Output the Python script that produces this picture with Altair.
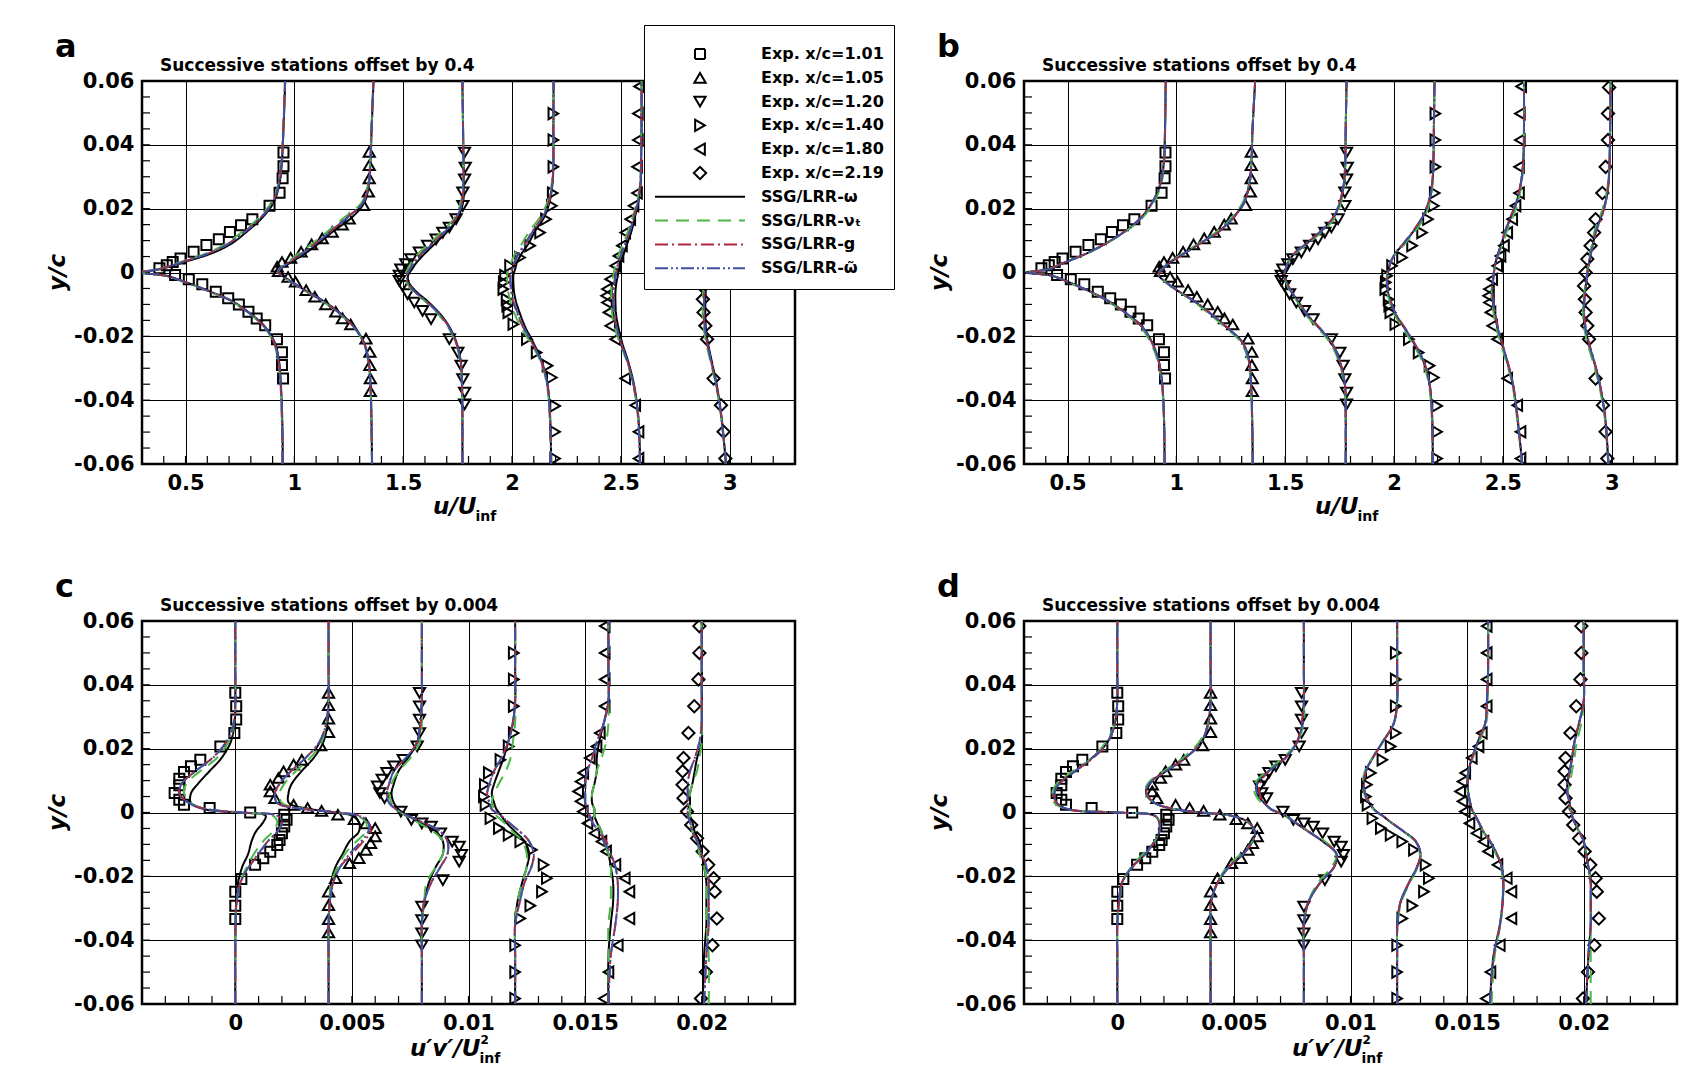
import altair as alt
import pandas as pd

F = "DejaVu Sans"
W, H = 653, 383

EXP_LABELS = ["Exp. x/c=1.01", "Exp. x/c=1.05", "Exp. x/c=1.20",
              "Exp. x/c=1.40", "Exp. x/c=1.80", "Exp. x/c=2.19"]
MODEL_LABELS = ["SSG/LRR-ω", "SSG/LRR-νₜ", "SSG/LRR-g", "SSG/LRR-ω̃"]
SERIES = EXP_LABELS + MODEL_LABELS

# y/c stations where the computed profiles were read
Y_GRID = [-0.06, -0.045, -0.035, -0.028, -0.022, -0.017, -0.013, -0.009, -0.006, -0.003, -0.001,
          0.0, 0.001, 0.003, 0.006, 0.009, 0.013, 0.017, 0.022, 0.028, 0.035, 0.045, 0.06]

# ---------------- experimental u/U (offset included, panels a and b) ----------------
EXP_U_Y = [
    [0.0376, 0.0333, 0.0295, 0.025, 0.0209, 0.0167, 0.0148, 0.0127, 0.0104, 0.0086, 0.0065, 0.0044, 0.0033,
     0.0023, 0.0013, -0.0008, -0.0021, -0.0037, -0.006, -0.0081, -0.01, -0.0123, -0.0144, -0.0165, -0.0209,
     -0.025, -0.029, -0.0332],
    [0.0378, 0.0336, 0.0295, 0.0253, 0.0211, 0.0169, 0.015, 0.0127, 0.0107, 0.0088, 0.0065, 0.0046, 0.0033,
     0.0018, 0.0004, -0.0014, -0.0029, -0.0055, -0.0076, -0.01, -0.0123, -0.0144, -0.0163, -0.0207, -0.0249,
     -0.029, -0.0332, -0.0372],
    [0.0376, 0.0329, 0.0292, 0.0251, 0.0209, 0.0167, 0.0141, 0.0125, 0.0104, 0.0084, 0.0063, 0.0042, 0.0026,
     0.001, -0.001, -0.0026, -0.0042, -0.0068, -0.0094, -0.012, -0.0146, -0.0209, -0.0251, -0.0292, -0.0334,
     -0.0376, -0.0413],
    [0.0498, 0.0415, 0.0331, 0.0249, 0.0209, 0.0167, 0.0125, 0.0084, 0.0047, 0.0021, -0.001, -0.0031, -0.0052,
     -0.0084, -0.0104, -0.0125, -0.0162, -0.0209, -0.0251, -0.0292, -0.0329, -0.0418, -0.0499, -0.0583],
    [0.0583, 0.0498, 0.0415, 0.0331, 0.0249, 0.0209, 0.0167, 0.0125, 0.0084, 0.0052, 0.0021, -0.0021, -0.0052,
     -0.0073, -0.0094, -0.0125, -0.0167, -0.0209, -0.0332, -0.0416, -0.0499, -0.0583],
    [0.058, 0.0498, 0.0415, 0.0331, 0.0249, 0.0167, 0.0125, 0.0084, 0.0042, 0.0, -0.0042, -0.0084, -0.0125,
     -0.0167, -0.0209, -0.0332, -0.0416, -0.0499, -0.0583],
]
EXP_U_X = [
    [0.95, 0.95, 0.946, 0.932, 0.886, 0.807, 0.755, 0.704, 0.653, 0.596, 0.537, 0.477, 0.441, 0.414, 0.38,
     0.452, 0.515, 0.577, 0.639, 0.696, 0.745, 0.789, 0.827, 0.866, 0.92, 0.943, 0.943, 0.948],
    [1.344, 1.344, 1.344, 1.34, 1.318, 1.252, 1.22, 1.174, 1.128, 1.079, 1.031, 0.983, 0.943, 0.921, 0.927,
     0.971, 1.005, 1.054, 1.094, 1.144, 1.19, 1.221, 1.259, 1.329, 1.347, 1.347, 1.349, 1.349],
    [1.782, 1.785, 1.782, 1.774, 1.774, 1.743, 1.712, 1.682, 1.651, 1.612, 1.574, 1.535, 1.512, 1.489, 1.482,
     1.482, 1.497, 1.52, 1.551, 1.589, 1.628, 1.712, 1.751, 1.766, 1.774, 1.782, 1.782],
    [2.19, 2.19, 2.19, 2.187, 2.183, 2.156, 2.129, 2.083, 2.037, 1.991, 1.968, 1.962, 1.96, 1.975, 1.978,
     1.983, 2.006, 2.068, 2.113, 2.163, 2.183, 2.198, 2.198, 2.198],
    [2.584, 2.578, 2.578, 2.574, 2.574, 2.558, 2.543, 2.52, 2.505, 2.489, 2.474, 2.451, 2.436, 2.432, 2.436,
     2.443, 2.451, 2.474, 2.52, 2.566, 2.581, 2.581],
    [2.988, 2.983, 2.983, 2.972, 2.957, 2.926, 2.919, 2.903, 2.888, 2.88, 2.873, 2.877, 2.88, 2.888, 2.896,
     2.926, 2.96, 2.972, 2.98],
]

# ---------------- experimental u'v' (offset included, panels c and d) ----------------
EXP_UV_Y = [
    [0.0375, 0.0333, 0.0291, 0.0249, 0.0207, 0.0165, 0.0145, 0.0127, 0.0106, 0.0085, 0.0061, 0.004, 0.0024,
     0.0014, 0.0, -0.0007, -0.0023, -0.0044, -0.0065, -0.0086, -0.0102, -0.0123, -0.0143, -0.0164, -0.0208,
     -0.0248, -0.0292, -0.0334],
    [0.0375, 0.0336, 0.0294, 0.0252, 0.021, 0.0165, 0.015, 0.0129, 0.0108, 0.0087, 0.0066, 0.0045, 0.0024,
     0.0014, 0.0005, -0.0007, -0.0021, -0.0034, -0.0049, -0.0075, -0.0096, -0.0117, -0.0143, -0.0159, -0.0206,
     -0.0248, -0.029, -0.0334, -0.0376],
    [0.0375, 0.0333, 0.0291, 0.0249, 0.0207, 0.0165, 0.0145, 0.0124, 0.0103, 0.0082, 0.0061, 0.0045, 0.0003,
     -0.0023, -0.0034, -0.0044, -0.0065, -0.0091, -0.0107, -0.0133, -0.0154, -0.0212, -0.0295, -0.0337,
     -0.0379, -0.0416],
    [0.05, 0.0417, 0.0333, 0.0249, 0.0207, 0.0165, 0.0124, 0.0087, 0.005, 0.0024, -0.0018, -0.0049, -0.007,
     -0.0091, -0.0117, -0.0164, -0.0206, -0.0248, -0.0292, -0.0332, -0.0416, -0.05, -0.0583],
    [0.0584, 0.05, 0.0417, 0.0333, 0.0249, 0.0207, 0.0171, 0.0124, 0.0097, 0.0066, 0.0035, 0.0003, -0.0034,
     -0.0065, -0.0091, -0.0122, -0.0164, -0.0206, -0.0248, -0.0332, -0.0416, -0.05, -0.0583],
    [0.0584, 0.05, 0.0417, 0.0333, 0.0249, 0.0171, 0.0129, 0.0087, 0.0045, 0.0003, -0.0039, -0.0081, -0.0122,
     -0.0164, -0.0206, -0.0248, -0.0332, -0.0416, -0.05, -0.0583],
]
EXP_UV_X = [
    [0.0, 0.00004, 0.00004, -0.00004, -0.00064, -0.0015, -0.0019, -0.0022, -0.0024, -0.0024, -0.0026, -0.0024,
     -0.0022, -0.0011, 0.00064, 0.0021, 0.0022, 0.0021, 0.002, 0.0019, 0.0018, 0.0015, 0.0012, 0.00085,
     0.00026, 0.0, 0.0, 0.0],
    [0.004, 0.004, 0.004, 0.004, 0.00366, 0.00285, 0.0025, 0.00207, 0.00185, 0.0015, 0.0015, 0.0017, 0.0025,
     0.0031, 0.0037, 0.0044, 0.0051, 0.0056, 0.006, 0.006, 0.0058, 0.0056, 0.0053, 0.0049, 0.0043, 0.004,
     0.004, 0.004, 0.004],
    [0.0079, 0.0079, 0.0079, 0.0079, 0.0078, 0.0072, 0.0068, 0.0065, 0.0063, 0.0061, 0.0062, 0.0064, 0.0071,
     0.00755, 0.008, 0.0084, 0.0088, 0.0093, 0.0096, 0.0097, 0.0096, 0.0089, 0.008, 0.008, 0.008, 0.008],
    [0.01194, 0.01194, 0.01194, 0.01194, 0.01172, 0.01137, 0.01087, 0.0107, 0.01066, 0.01073, 0.01094, 0.0113,
     0.01172, 0.01222, 0.01272, 0.01322, 0.01336, 0.01315, 0.01265, 0.01222, 0.012, 0.012, 0.012],
    [0.01584, 0.01584, 0.01584, 0.01584, 0.01563, 0.01549, 0.0152, 0.01492, 0.0148, 0.0147, 0.0148, 0.0149,
     0.0151, 0.0154, 0.0157, 0.0159, 0.0163, 0.0167, 0.0169, 0.0169, 0.0164, 0.016, 0.0158],
    [0.0199, 0.0199, 0.01986, 0.01968, 0.01943, 0.01922, 0.01918, 0.01918, 0.01922, 0.01937, 0.01955, 0.0198,
     0.02004, 0.02028, 0.02051, 0.02056, 0.02065, 0.02046, 0.02018, 0.01997],
]

# ---------------- computed profiles, panel a (u/U), one list per station ----------------
A_W = [
    [0.947, 0.944, 0.938, 0.930, 0.910, 0.865, 0.800, 0.715, 0.615, 0.500, 0.410, 0.290, 0.380, 0.480, 0.620, 0.710, 0.785, 0.850, 0.905, 0.932, 0.943, 0.950, 0.958],
    [1.357, 1.354, 1.350, 1.342, 1.320, 1.275, 1.215, 1.135, 1.060, 0.990, 0.945, 0.930, 0.935, 0.980, 1.050, 1.110, 1.180, 1.260, 1.322, 1.343, 1.350, 1.355, 1.364],
    [1.772, 1.772, 1.770, 1.765, 1.745, 1.712, 1.670, 1.612, 1.560, 1.525, 1.522, 1.529, 1.540, 1.560, 1.600, 1.645, 1.705, 1.750, 1.775, 1.778, 1.777, 1.775, 1.772],
    [2.180, 2.175, 2.163, 2.137, 2.098, 2.060, 2.037, 2.018, 2.009, 2.006, 2.006, 2.009, 2.014, 2.022, 2.045, 2.075, 2.106, 2.145, 2.172, 2.186, 2.190, 2.190, 2.191],
    [2.589, 2.580, 2.560, 2.534, 2.506, 2.488, 2.478, 2.475, 2.475, 2.480, 2.486, 2.488, 2.491, 2.498, 2.514, 2.529, 2.549, 2.563, 2.580, 2.591, 2.593, 2.595, 2.595],
    [2.983, 2.962, 2.940, 2.918, 2.900, 2.890, 2.888, 2.888, 2.890, 2.893, 2.896, 2.898, 2.900, 2.905, 2.915, 2.925, 2.940, 2.955, 2.972, 2.985, 2.993, 2.998, 3.000],
]
A_NU = [
    [0.945, 0.942, 0.936, 0.927, 0.905, 0.860, 0.795, 0.710, 0.610, 0.495, 0.405, 0.290, 0.370, 0.465, 0.595, 0.685, 0.765, 0.835, 0.895, 0.928, 0.941, 0.949, 0.957],
    [1.356, 1.353, 1.349, 1.340, 1.318, 1.270, 1.208, 1.128, 1.055, 0.985, 0.940, 0.925, 0.930, 0.965, 1.020, 1.080, 1.155, 1.225, 1.310, 1.340, 1.348, 1.354, 1.363],
    [1.772, 1.771, 1.769, 1.763, 1.740, 1.705, 1.660, 1.600, 1.545, 1.515, 1.510, 1.514, 1.520, 1.535, 1.570, 1.620, 1.680, 1.735, 1.765, 1.775, 1.776, 1.775, 1.772],
    [2.179, 2.173, 2.160, 2.132, 2.085, 2.040, 2.012, 1.992, 1.982, 1.978, 1.978, 1.980, 1.985, 1.995, 2.015, 2.045, 2.080, 2.125, 2.162, 2.183, 2.189, 2.190, 2.191],
    [2.588, 2.578, 2.556, 2.528, 2.495, 2.470, 2.460, 2.456, 2.456, 2.460, 2.465, 2.468, 2.471, 2.478, 2.492, 2.510, 2.533, 2.552, 2.574, 2.588, 2.592, 2.594, 2.595],
    [2.982, 2.960, 2.936, 2.912, 2.892, 2.880, 2.876, 2.876, 2.878, 2.882, 2.885, 2.887, 2.889, 2.894, 2.904, 2.915, 2.930, 2.947, 2.966, 2.982, 2.992, 2.997, 3.000],
]
A_G = [
    [0.946, 0.943, 0.937, 0.928, 0.907, 0.862, 0.797, 0.712, 0.612, 0.497, 0.407, 0.290, 0.375, 0.472, 0.605, 0.695, 0.775, 0.842, 0.900, 0.930, 0.942, 0.949, 0.957],
    [1.357, 1.353, 1.349, 1.341, 1.319, 1.272, 1.211, 1.131, 1.057, 0.987, 0.942, 0.927, 0.932, 0.972, 1.035, 1.095, 1.167, 1.238, 1.316, 1.341, 1.349, 1.354, 1.363],
    [1.772, 1.772, 1.770, 1.764, 1.743, 1.709, 1.665, 1.606, 1.552, 1.520, 1.516, 1.521, 1.530, 1.548, 1.585, 1.632, 1.692, 1.742, 1.770, 1.777, 1.777, 1.775, 1.772],
    [2.180, 2.174, 2.162, 2.135, 2.092, 2.050, 2.025, 2.005, 1.996, 1.992, 1.992, 1.995, 2.000, 2.009, 2.030, 2.060, 2.094, 2.136, 2.168, 2.185, 2.190, 2.190, 2.191],
    [2.588, 2.579, 2.558, 2.531, 2.500, 2.479, 2.469, 2.465, 2.465, 2.470, 2.475, 2.478, 2.481, 2.488, 2.503, 2.520, 2.541, 2.558, 2.577, 2.590, 2.593, 2.595, 2.595],
    [2.983, 2.961, 2.938, 2.915, 2.896, 2.885, 2.882, 2.882, 2.884, 2.888, 2.891, 2.893, 2.895, 2.900, 2.910, 2.920, 2.935, 2.951, 2.969, 2.984, 2.992, 2.997, 3.000],
]
A_WT = [
    [0.946, 0.943, 0.937, 0.928, 0.908, 0.863, 0.798, 0.713, 0.613, 0.498, 0.408, 0.290, 0.376, 0.474, 0.607, 0.698, 0.778, 0.844, 0.901, 0.930, 0.942, 0.950, 0.957],
    [1.357, 1.354, 1.349, 1.341, 1.319, 1.273, 1.212, 1.132, 1.058, 0.988, 0.942, 0.927, 0.932, 0.973, 1.037, 1.097, 1.169, 1.240, 1.317, 1.342, 1.349, 1.355, 1.363],
    [1.772, 1.772, 1.770, 1.764, 1.743, 1.709, 1.666, 1.607, 1.553, 1.521, 1.517, 1.522, 1.531, 1.550, 1.588, 1.635, 1.695, 1.744, 1.771, 1.777, 1.777, 1.775, 1.772],
    [2.180, 2.174, 2.162, 2.135, 2.093, 2.052, 2.027, 2.007, 1.998, 1.994, 1.994, 1.997, 2.002, 2.011, 2.032, 2.062, 2.096, 2.138, 2.169, 2.185, 2.190, 2.190, 2.191],
    [2.588, 2.579, 2.558, 2.531, 2.501, 2.480, 2.470, 2.466, 2.466, 2.471, 2.476, 2.479, 2.482, 2.489, 2.504, 2.521, 2.542, 2.559, 2.578, 2.590, 2.593, 2.595, 2.595],
    [2.983, 2.961, 2.938, 2.915, 2.897, 2.886, 2.883, 2.883, 2.885, 2.889, 2.892, 2.894, 2.896, 2.901, 2.911, 2.921, 2.936, 2.952, 2.970, 2.984, 2.992, 2.997, 3.000],
]

# ---------------- computed profiles, panel b (u/U) ----------------
B_W = [
    [0.946, 0.943, 0.935, 0.920, 0.889, 0.843, 0.774, 0.689, 0.605, 0.505, 0.428, 0.312, 0.412, 0.482, 0.589, 0.674, 0.766, 0.835, 0.890, 0.928, 0.943, 0.948, 0.951],
    [1.351, 1.348, 1.343, 1.335, 1.305, 1.228, 1.158, 1.082, 1.012, 0.951, 0.920, 0.920, 0.935, 0.966, 1.035, 1.105, 1.197, 1.258, 1.310, 1.336, 1.345, 1.350, 1.362],
    [1.778, 1.778, 1.774, 1.751, 1.712, 1.651, 1.597, 1.558, 1.528, 1.505, 1.497, 1.497, 1.502, 1.512, 1.543, 1.597, 1.666, 1.720, 1.752, 1.770, 1.776, 1.778, 1.782],
    [2.178, 2.175, 2.163, 2.136, 2.090, 2.044, 2.006, 1.983, 1.972, 1.968, 1.969, 1.971, 1.975, 1.983, 2.006, 2.044, 2.090, 2.129, 2.160, 2.176, 2.181, 2.183, 2.186],
    [2.589, 2.566, 2.546, 2.520, 2.494, 2.474, 2.463, 2.454, 2.451, 2.454, 2.457, 2.459, 2.461, 2.466, 2.479, 2.494, 2.512, 2.535, 2.563, 2.583, 2.594, 2.597, 2.597],
    [2.985, 2.969, 2.945, 2.919, 2.893, 2.877, 2.871, 2.873, 2.877, 2.883, 2.886, 2.888, 2.890, 2.896, 2.903, 2.914, 2.926, 2.949, 2.971, 2.985, 2.990, 2.993, 2.995],
]
B_NU = [
    [0.945, 0.942, 0.933, 0.916, 0.882, 0.836, 0.768, 0.684, 0.601, 0.502, 0.426, 0.312, 0.410, 0.480, 0.588, 0.676, 0.770, 0.842, 0.898, 0.932, 0.944, 0.948, 0.951],
    [1.350, 1.347, 1.341, 1.331, 1.298, 1.222, 1.152, 1.078, 1.010, 0.950, 0.920, 0.920, 0.934, 0.963, 1.030, 1.100, 1.190, 1.252, 1.306, 1.334, 1.344, 1.350, 1.362],
    [1.777, 1.777, 1.772, 1.747, 1.706, 1.645, 1.592, 1.554, 1.525, 1.503, 1.496, 1.496, 1.501, 1.512, 1.546, 1.603, 1.673, 1.727, 1.757, 1.772, 1.777, 1.778, 1.782],
    [2.177, 2.173, 2.160, 2.131, 2.083, 2.037, 2.000, 1.979, 1.969, 1.966, 1.967, 1.969, 1.973, 1.982, 2.008, 2.050, 2.098, 2.137, 2.165, 2.178, 2.182, 2.183, 2.186],
    [2.588, 2.564, 2.543, 2.516, 2.489, 2.469, 2.458, 2.450, 2.448, 2.452, 2.456, 2.458, 2.461, 2.467, 2.482, 2.499, 2.519, 2.543, 2.569, 2.586, 2.595, 2.597, 2.597],
    [2.984, 2.967, 2.941, 2.914, 2.888, 2.873, 2.868, 2.870, 2.875, 2.881, 2.885, 2.887, 2.889, 2.894, 2.901, 2.910, 2.921, 2.943, 2.967, 2.983, 2.990, 2.993, 2.995],
]
B_G = [
    [0.946, 0.943, 0.935, 0.919, 0.888, 0.842, 0.773, 0.688, 0.604, 0.504, 0.427, 0.312, 0.411, 0.481, 0.588, 0.673, 0.765, 0.834, 0.889, 0.927, 0.943, 0.948, 0.951],
    [1.351, 1.348, 1.343, 1.334, 1.304, 1.230, 1.161, 1.085, 1.014, 0.952, 0.921, 0.920, 0.936, 0.968, 1.038, 1.108, 1.200, 1.261, 1.312, 1.337, 1.345, 1.350, 1.362],
    [1.778, 1.778, 1.774, 1.752, 1.714, 1.654, 1.600, 1.561, 1.530, 1.506, 1.498, 1.497, 1.502, 1.512, 1.542, 1.595, 1.663, 1.717, 1.750, 1.769, 1.776, 1.778, 1.782],
    [2.178, 2.175, 2.164, 2.138, 2.093, 2.047, 2.009, 1.985, 1.973, 1.969, 1.970, 1.972, 1.976, 1.984, 2.005, 2.042, 2.087, 2.126, 2.158, 2.175, 2.181, 2.183, 2.186],
    [2.589, 2.567, 2.547, 2.522, 2.497, 2.477, 2.466, 2.456, 2.452, 2.455, 2.457, 2.459, 2.461, 2.466, 2.478, 2.492, 2.510, 2.532, 2.561, 2.582, 2.594, 2.597, 2.597],
    [2.985, 2.970, 2.946, 2.921, 2.896, 2.880, 2.874, 2.875, 2.879, 2.884, 2.887, 2.889, 2.891, 2.897, 2.905, 2.916, 2.929, 2.952, 2.973, 2.986, 2.991, 2.993, 2.995],
]
B_WT = [
    [0.946, 0.943, 0.935, 0.920, 0.889, 0.843, 0.774, 0.689, 0.605, 0.505, 0.428, 0.312, 0.412, 0.482, 0.589, 0.674, 0.766, 0.836, 0.890, 0.928, 0.943, 0.948, 0.951],
    [1.351, 1.348, 1.343, 1.335, 1.305, 1.229, 1.159, 1.083, 1.013, 0.951, 0.920, 0.920, 0.935, 0.967, 1.036, 1.106, 1.198, 1.259, 1.311, 1.336, 1.345, 1.350, 1.362],
    [1.778, 1.778, 1.774, 1.751, 1.713, 1.652, 1.598, 1.559, 1.529, 1.505, 1.497, 1.497, 1.502, 1.512, 1.543, 1.596, 1.665, 1.719, 1.751, 1.770, 1.776, 1.778, 1.782],
    [2.178, 2.175, 2.163, 2.137, 2.091, 2.045, 2.007, 1.984, 1.972, 1.968, 1.969, 1.971, 1.975, 1.983, 2.006, 2.043, 2.089, 2.128, 2.159, 2.176, 2.181, 2.183, 2.186],
    [2.589, 2.566, 2.546, 2.521, 2.495, 2.475, 2.464, 2.455, 2.451, 2.454, 2.457, 2.459, 2.461, 2.466, 2.479, 2.493, 2.511, 2.534, 2.562, 2.583, 2.594, 2.597, 2.597],
    [2.985, 2.969, 2.945, 2.920, 2.894, 2.878, 2.872, 2.874, 2.878, 2.883, 2.886, 2.888, 2.890, 2.896, 2.904, 2.915, 2.927, 2.950, 2.972, 2.985, 2.990, 2.993, 2.995],
]

# ---------------- computed profiles, panel c (u'v') ----------------
C_W = [
    [0.0, 0.0, 0.00001, 0.00004, 0.00012, 0.0003, 0.00055, 0.0007, 0.00088, 0.0012, 0.0013, 0.0, -0.0013, -0.0019, -0.0019, -0.0016, -0.0011, -0.0006, -0.0002, -0.00003, 0.0, 0.0, 0.0],
    [0.004, 0.004, 0.004, 0.00405, 0.0041, 0.0043, 0.0046, 0.0049, 0.0053, 0.0053, 0.005, 0.0043, 0.0033, 0.0023, 0.00228, 0.00242, 0.00285, 0.00335, 0.00377, 0.00395, 0.004, 0.004, 0.004],
    [0.008, 0.008, 0.008, 0.0081, 0.0083, 0.0086, 0.0089, 0.0089, 0.0086, 0.0079, 0.0074, 0.0072, 0.007, 0.0068, 0.0067, 0.0068, 0.007, 0.0074, 0.0078, 0.00795, 0.008, 0.008, 0.008],
    [0.012, 0.012, 0.012, 0.0121, 0.0123, 0.0125, 0.0126, 0.0124, 0.012, 0.0116, 0.0114, 0.0113, 0.0112, 0.0111, 0.011, 0.0111, 0.0113, 0.0115, 0.0117, 0.0119, 0.012, 0.012, 0.012],
    [0.016, 0.016, 0.0161, 0.0162, 0.0162, 0.0161, 0.016, 0.0158, 0.0157, 0.0155, 0.0154, 0.0154, 0.0154, 0.0153, 0.0153, 0.0154, 0.0155, 0.0155, 0.0156, 0.0158, 0.016, 0.016, 0.016],
    [0.02005, 0.0201, 0.0202, 0.0202, 0.0202, 0.0201, 0.02, 0.0199, 0.0197, 0.0196, 0.0195, 0.0195, 0.0195, 0.0195, 0.0195, 0.0196, 0.0197, 0.0198, 0.02, 0.02, 0.02, 0.02, 0.02],
]
C_NU = [
    [0.0, 0.0, 0.00001, 0.00005, 0.0002, 0.0005, 0.0008, 0.0012, 0.0016, 0.0018, 0.0016, 0.0002, -0.0012, -0.0019, -0.0022, -0.0021, -0.0015, -0.0008, -0.0003, -0.00005, 0.0, 0.0, 0.0],
    [0.004, 0.004, 0.004, 0.00405, 0.0041, 0.0044, 0.0047, 0.0052, 0.0056, 0.0056, 0.0052, 0.0044, 0.0031, 0.002, 0.0019, 0.0021, 0.0026, 0.0032, 0.0037, 0.0039, 0.004, 0.004, 0.004],
    [0.008, 0.008, 0.008, 0.0081, 0.0082, 0.0086, 0.0089, 0.0089, 0.0085, 0.0078, 0.0073, 0.0071, 0.0069, 0.0067, 0.0066, 0.0067, 0.007, 0.0075, 0.0079, 0.008, 0.008, 0.008, 0.008],
    [0.012, 0.012, 0.012, 0.0121, 0.0123, 0.0125, 0.0125, 0.0123, 0.0119, 0.0115, 0.0112, 0.0111, 0.0111, 0.011, 0.0111, 0.0113, 0.0116, 0.0118, 0.0119, 0.012, 0.012, 0.012, 0.012],
    [0.016, 0.016, 0.016, 0.0161, 0.0161, 0.0161, 0.016, 0.0158, 0.0157, 0.0155, 0.0154, 0.0154, 0.0154, 0.0153, 0.0153, 0.0154, 0.0155, 0.0157, 0.0159, 0.016, 0.016, 0.016, 0.016],
    [0.0203, 0.0203, 0.0202, 0.0202, 0.0202, 0.0201, 0.0199, 0.0198, 0.0196, 0.0195, 0.0195, 0.0195, 0.0195, 0.0195, 0.0195, 0.0196, 0.0198, 0.0199, 0.02, 0.02, 0.02, 0.02, 0.02],
]
C_G = [
    [0.0, 0.0, 0.00001, 0.00006, 0.00022, 0.0006, 0.001, 0.0014, 0.0018, 0.002, 0.0018, 0.0003, -0.0012, -0.002, -0.0024, -0.0023, -0.0017, -0.001, -0.0004, -0.00007, 0.0, 0.0, 0.0],
    [0.004, 0.004, 0.004, 0.00405, 0.0042, 0.0045, 0.005, 0.0055, 0.0058, 0.0057, 0.0053, 0.0044, 0.003, 0.0018, 0.0017, 0.0019, 0.0024, 0.003, 0.0036, 0.0039, 0.004, 0.004, 0.004],
    [0.008, 0.008, 0.008, 0.0081, 0.0084, 0.0088, 0.0091, 0.0091, 0.0088, 0.008, 0.0074, 0.0071, 0.0069, 0.0066, 0.0065, 0.0066, 0.0068, 0.0073, 0.0078, 0.00795, 0.008, 0.008, 0.008],
    [0.012, 0.012, 0.012, 0.0122, 0.0124, 0.0127, 0.0128, 0.0126, 0.0122, 0.0117, 0.0114, 0.0112, 0.011, 0.0109, 0.0108, 0.0109, 0.0111, 0.0114, 0.0117, 0.0119, 0.012, 0.012, 0.012],
    [0.016, 0.0161, 0.0163, 0.0164, 0.0164, 0.0163, 0.0161, 0.0159, 0.0156, 0.0153, 0.0152, 0.0151, 0.0151, 0.015, 0.015, 0.015, 0.0151, 0.0153, 0.0155, 0.0158, 0.016, 0.016, 0.016],
    [0.0201, 0.0202, 0.0203, 0.0203, 0.0203, 0.0202, 0.02, 0.0198, 0.0196, 0.0195, 0.0194, 0.0194, 0.0194, 0.0194, 0.0194, 0.0194, 0.0195, 0.0197, 0.0199, 0.02, 0.02, 0.02, 0.02],
]
C_WT = [
    [0.0, 0.0, 0.00001, 0.00006, 0.00021, 0.00058, 0.00098, 0.0014, 0.0018, 0.002, 0.0018, 0.0003, -0.0012, -0.002, -0.0024, -0.0023, -0.0017, -0.00098, -0.0004, -0.00007, 0.0, 0.0, 0.0],
    [0.004, 0.004, 0.004, 0.00405, 0.0042, 0.0045, 0.0049, 0.0054, 0.0057, 0.0057, 0.0053, 0.0044, 0.003, 0.0018, 0.0017, 0.0019, 0.0024, 0.003, 0.0036, 0.0039, 0.004, 0.004, 0.004],
    [0.008, 0.008, 0.008, 0.0081, 0.0084, 0.0088, 0.0091, 0.0091, 0.0088, 0.008, 0.0074, 0.0071, 0.0069, 0.0066, 0.0065, 0.0066, 0.0068, 0.0073, 0.0078, 0.0079, 0.008, 0.008, 0.008],
    [0.012, 0.012, 0.012, 0.0122, 0.0124, 0.0127, 0.0128, 0.0126, 0.0122, 0.0117, 0.0114, 0.0112, 0.011, 0.0109, 0.0108, 0.0109, 0.0111, 0.0114, 0.0117, 0.0119, 0.012, 0.012, 0.012],
    [0.016, 0.0161, 0.0163, 0.0164, 0.0164, 0.0163, 0.0161, 0.0158, 0.0156, 0.0153, 0.0152, 0.0151, 0.0151, 0.015, 0.015, 0.015, 0.0151, 0.0153, 0.0155, 0.0158, 0.016, 0.016, 0.016],
    [0.0201, 0.0202, 0.0203, 0.0203, 0.0203, 0.0202, 0.02, 0.0198, 0.0196, 0.0195, 0.0194, 0.0194, 0.0194, 0.0194, 0.0194, 0.0194, 0.0195, 0.0197, 0.0199, 0.02, 0.02, 0.02, 0.02],
]

# ---------------- computed profiles, panel d (u'v') ----------------
D_W = [
    [0.0, 0.0, 0.0, 0.00007, 0.0002, 0.00064, 0.0012, 0.0016, 0.0018, 0.0018, 0.0016, 0.0, -0.0021, -0.0026, -0.0027, -0.0025, -0.0018, -0.0011, -0.00043, -0.0001, 0.0, 0.0, 0.0],
    [0.004, 0.004, 0.004, 0.00402, 0.0043, 0.0048, 0.0054, 0.0058, 0.0059, 0.0056, 0.0049, 0.0036, 0.0025, 0.0016, 0.00124, 0.00135, 0.0021, 0.0029, 0.0036, 0.0039, 0.004, 0.004, 0.004],
    [0.008, 0.008, 0.008, 0.0082, 0.0087, 0.0093, 0.0094, 0.0088, 0.0082, 0.0076, 0.0072, 0.0069, 0.0066, 0.0063, 0.006, 0.006, 0.0065, 0.0072, 0.0077, 0.00795, 0.008, 0.008, 0.008],
    [0.012, 0.012, 0.01201, 0.01215, 0.01251, 0.01286, 0.013, 0.01279, 0.01229, 0.01172, 0.01137, 0.01116, 0.01101, 0.0108, 0.01062, 0.01056, 0.01066, 0.01094, 0.01137, 0.01186, 0.012, 0.012, 0.012],
    [0.01598, 0.01613, 0.01641, 0.01652, 0.01655, 0.01648, 0.01627, 0.01598, 0.0157, 0.01549, 0.01535, 0.01527, 0.0152, 0.01513, 0.01505, 0.01502, 0.01506, 0.01521, 0.01545, 0.01578, 0.01585, 0.0159, 0.0159],
    [0.0201, 0.0202, 0.0203, 0.0203, 0.0203, 0.0202, 0.0201, 0.02, 0.0198, 0.0196, 0.0195, 0.0195, 0.0194, 0.0194, 0.0193, 0.0193, 0.0194, 0.0195, 0.0196, 0.0198, 0.02, 0.02, 0.02],
]
D_NU = [
    [0.0, 0.0, 0.0, 0.00008, 0.00022, 0.0006, 0.0011, 0.0016, 0.0018, 0.0018, 0.0016, 0.0, -0.0021, -0.0027, -0.0028, -0.0026, -0.0019, -0.0011, -0.0005, -0.0001, 0.0, 0.0, 0.0],
    [0.004, 0.004, 0.004, 0.00402, 0.0043, 0.0047, 0.0053, 0.0058, 0.0059, 0.0056, 0.0049, 0.0036, 0.0025, 0.0016, 0.0012, 0.0013, 0.002, 0.0028, 0.0035, 0.0039, 0.004, 0.004, 0.004],
    [0.008, 0.008, 0.008, 0.0082, 0.0086, 0.0092, 0.0094, 0.0089, 0.0082, 0.0076, 0.0072, 0.0069, 0.0066, 0.0062, 0.0059, 0.0059, 0.0064, 0.0071, 0.0077, 0.008, 0.008, 0.008, 0.008],
    [0.012, 0.012, 0.01202, 0.01218, 0.01255, 0.01288, 0.01298, 0.01276, 0.01226, 0.0117, 0.01136, 0.01115, 0.011, 0.01078, 0.01058, 0.01052, 0.01062, 0.01092, 0.01135, 0.01185, 0.012, 0.012, 0.012],
    [0.01605, 0.01618, 0.01643, 0.01652, 0.01653, 0.01645, 0.01624, 0.01596, 0.01569, 0.01549, 0.01535, 0.01527, 0.0152, 0.01512, 0.01503, 0.015, 0.01505, 0.01524, 0.0155, 0.01582, 0.01588, 0.0159, 0.0159],
    [0.0203, 0.0203, 0.0203, 0.0203, 0.0203, 0.0202, 0.0201, 0.02, 0.0198, 0.0196, 0.0195, 0.0195, 0.0194, 0.0194, 0.0193, 0.0194, 0.0195, 0.0196, 0.0197, 0.0199, 0.02, 0.02, 0.02],
]
D_G = [
    [0.0, 0.0, 0.0, 0.00007, 0.0002, 0.00066, 0.0012, 0.0016, 0.0018, 0.0018, 0.0016, 0.0, -0.0021, -0.0026, -0.0027, -0.0025, -0.0018, -0.00105, -0.0004, -0.0001, 0.0, 0.0, 0.0],
    [0.004, 0.004, 0.004, 0.00403, 0.0043, 0.0048, 0.0054, 0.0058, 0.0059, 0.0056, 0.0049, 0.0036, 0.0025, 0.0016, 0.00125, 0.00137, 0.0021, 0.0029, 0.0036, 0.0039, 0.004, 0.004, 0.004],
    [0.008, 0.008, 0.008, 0.0082, 0.0087, 0.0093, 0.0094, 0.0088, 0.0082, 0.0076, 0.0072, 0.0069, 0.0066, 0.0063, 0.0061, 0.0061, 0.0065, 0.0072, 0.0077, 0.0079, 0.008, 0.008, 0.008],
    [0.012, 0.012, 0.01201, 0.01214, 0.0125, 0.01285, 0.013, 0.0128, 0.0123, 0.01173, 0.01138, 0.01117, 0.01102, 0.01081, 0.01063, 0.01057, 0.01067, 0.01095, 0.01138, 0.01186, 0.012, 0.012, 0.012],
    [0.01598, 0.01614, 0.01642, 0.01653, 0.01656, 0.01649, 0.01628, 0.01599, 0.01571, 0.0155, 0.01536, 0.01528, 0.01521, 0.01514, 0.01506, 0.01503, 0.01507, 0.01521, 0.01544, 0.01577, 0.01585, 0.0159, 0.0159],
    [0.0201, 0.0202, 0.0203, 0.0203, 0.0203, 0.0202, 0.0201, 0.02, 0.0198, 0.0196, 0.0195, 0.0195, 0.0194, 0.0194, 0.0193, 0.0193, 0.0194, 0.0195, 0.0196, 0.0198, 0.02, 0.02, 0.02],
]
D_WT = [
    [0.0, 0.0, 0.0, 0.00007, 0.0002, 0.00065, 0.0012, 0.0016, 0.0018, 0.0018, 0.0016, 0.0, -0.0021, -0.0026, -0.0027, -0.0025, -0.0018, -0.0011, -0.00042, -0.0001, 0.0, 0.0, 0.0],
    [0.004, 0.004, 0.004, 0.00402, 0.0043, 0.0048, 0.0054, 0.0058, 0.0059, 0.0056, 0.0049, 0.0036, 0.0025, 0.0016, 0.00124, 0.00136, 0.0021, 0.0029, 0.0036, 0.0039, 0.004, 0.004, 0.004],
    [0.008, 0.008, 0.008, 0.0082, 0.0087, 0.0093, 0.0094, 0.0088, 0.0082, 0.0076, 0.0072, 0.0069, 0.0066, 0.0063, 0.006, 0.006, 0.0065, 0.0072, 0.0077, 0.00795, 0.008, 0.008, 0.008],
    [0.012, 0.012, 0.01201, 0.01215, 0.01251, 0.01286, 0.013, 0.01279, 0.01229, 0.01172, 0.01137, 0.01116, 0.01101, 0.0108, 0.01062, 0.01056, 0.01066, 0.01094, 0.01137, 0.01186, 0.012, 0.012, 0.012],
    [0.01598, 0.01613, 0.01641, 0.01652, 0.01655, 0.01648, 0.01627, 0.01598, 0.0157, 0.01549, 0.01535, 0.01527, 0.0152, 0.01513, 0.01505, 0.01502, 0.01506, 0.01521, 0.01545, 0.01578, 0.01585, 0.0159, 0.0159],
    [0.0201, 0.0202, 0.0203, 0.0203, 0.0203, 0.0202, 0.0201, 0.02, 0.0198, 0.0196, 0.0195, 0.0195, 0.0194, 0.0194, 0.0193, 0.0193, 0.0194, 0.0195, 0.0196, 0.0198, 0.02, 0.02, 0.02],
]

# ---------------- axes ----------------
U_TICKS = [0.5, 1, 1.5, 2, 2.5, 3]
UV_TICKS = [0, 0.005, 0.01, 0.015, 0.02]
Y_TICKS = [-0.06, -0.04, -0.02, 0, 0.02, 0.04, 0.06]
U_DOMAIN = [0.3, 3.3]
UV_DOMAIN = [-0.004, 0.024]
Y_DOMAIN = [-0.06, 0.06]

GREEN, RED, BLUE = "#4cb848", "#b3263c", "#3f51a3"
COLOR_RANGE = ["black"] * 6 + ["black", GREEN, RED, BLUE]
SHAPE_RANGE = ["square", "triangle-up", "triangle-down", "triangle-right", "triangle-left", "diamond",
               "stroke", "stroke", "stroke", "stroke"]
SIZE_RANGE = [100, 125, 125, 125, 125, 150, 8100, 8100, 8100, 8100]
DASH_RANGE = [[1, 0]] * 6 + [[1, 0], [13, 8], [13, 4, 2, 4], [13, 3, 2, 3, 2, 3]]


def axis(values, grid=True):
    return alt.Axis(values=values, grid=grid, gridColor="black", gridWidth=1, gridOpacity=1,
                    ticks=False, domain=False, labelFont=F, labelFontWeight="bold", labelFontSize=21,
                    labelColor="black", labelPadding=8, title=None, labelExpr="'' + datum.value",
                    labelOverlap=False, labelFlush=False)


def text_layer(t, x, y, size, italic=False, align="left", angle=0, baseline="alphabetic"):
    return alt.Chart(pd.DataFrame({"t": [t]})).mark_text(
        font=F, fontSize=size, fontWeight="bold", fontStyle="italic" if italic else "normal",
        align=align, baseline=baseline, angle=angle, color="black"
    ).encode(x=alt.value(x), y=alt.value(y), text="t:N")


def panel(letter, title, exp_y, exp_x, models, xdomain, xticks, xminor, uv, show_legend):
    xs = alt.Scale(domain=xdomain, nice=False, zero=False)
    ys = alt.Scale(domain=Y_DOMAIN, nice=False, zero=False)
    xax, yax = axis(xticks), axis(Y_TICKS)

    exp_rows = []
    for s, (yy, xx) in enumerate(zip(exp_y, exp_x)):
        for a, b in zip(yy, xx):
            exp_rows.append({"series": EXP_LABELS[s], "x": b, "y": a})
    line_rows = []
    for m, stations in enumerate(models):
        for s, xx in enumerate(stations):
            for i, (a, b) in enumerate(zip(Y_GRID, xx)):
                line_rows.append({"series": MODEL_LABELS[m], "key": f"{m}-{s}", "i": i, "x": b, "y": a})

    if show_legend:
        leg = alt.Legend(title=" ", titleFontSize=5, titlePadding=4, orient="none", legendX=502,
                         legendY=-56, direction="vertical", columns=1, clipHeight=20, rowPadding=3.8,
                         labelFont=F, labelFontWeight="bold", labelFontSize=16, labelOffset=15,
                         labelLimit=400, labelColor="black", padding=10, fillColor="white",
                         strokeColor="black", symbolStrokeWidth=2, symbolFillColor="transparent",
                         symbolOpacity=1)
    else:
        leg = None

    color = alt.Color("series:N", scale=alt.Scale(domain=SERIES, range=COLOR_RANGE), legend=leg)
    shape = alt.Shape("series:N", scale=alt.Scale(domain=SERIES, range=SHAPE_RANGE), legend=leg)
    size = alt.Size("series:N", scale=alt.Scale(type="ordinal", domain=SERIES, range=SIZE_RANGE), legend=leg)
    dash = alt.StrokeDash("series:N", scale=alt.Scale(domain=SERIES, range=DASH_RANGE), legend=leg)

    points = alt.Chart(pd.DataFrame(exp_rows)).mark_point(
        filled=False, strokeWidth=2, opacity=1, clip=True).encode(
        x=alt.X("x:Q", scale=xs, axis=xax), y=alt.Y("y:Q", scale=ys, axis=yax),
        color=color, shape=shape, size=size)
    lines = alt.Chart(pd.DataFrame(line_rows)).mark_line(
        strokeWidth=2, opacity=1, clip=True, interpolate="catmull-rom").encode(
        x=alt.X("x:Q", scale=xs, axis=xax), y=alt.Y("y:Q", scale=ys, axis=yax),
        order="i:Q", detail="key:N", color=color, strokeDash=dash)

    y_minor = [round(-0.06 + 0.005 * k, 3) for k in range(25)]
    yticks = alt.Chart(pd.DataFrame({"v": y_minor})).mark_rule(color="black", strokeWidth=1.2).encode(
        y=alt.Y("v:Q", scale=ys, axis=yax), x=alt.value(0), x2=alt.value(8))
    xticks_l = alt.Chart(pd.DataFrame({"v": xminor})).mark_rule(color="black", strokeWidth=1.2).encode(
        x=alt.X("v:Q", scale=xs, axis=xax), y=alt.value(H), y2=alt.value(H - 8))

    texts = [
        text_layer(letter, -87, -24, 32),
        text_layer(title, 18, -10, 17),
        text_layer("y/c", -84, H / 2, 23, italic=True, align="center", angle=270, baseline="middle"),
    ]
    if uv:
        texts += [text_layer("u′v′/U", W / 2 + 12, H + 52, 23, italic=True, align="right"),
                  text_layer("2", W / 2 + 12, H + 40, 12),
                  text_layer("inf", W / 2 + 11, H + 59, 14)]
    else:
        texts += [text_layer("u/U", W / 2 + 8, H + 50, 23, italic=True, align="right"),
                  text_layer("inf", W / 2 + 7, H + 57, 14)]

    return alt.layer(yticks, xticks_l, points, lines, *texts).properties(width=W, height=H)


U_MINOR = [round(0.3 + 0.1 * k, 2) for k in range(31)]
UV_MINOR = [round(-0.004 + 0.001 * k, 3) for k in range(29)]

pa = panel("a", "Successive stations offset by 0.4", EXP_U_Y, EXP_U_X, [A_W, A_NU, A_G, A_WT],
           U_DOMAIN, U_TICKS, U_MINOR, False, True)
pb = panel("b", "Successive stations offset by 0.4", EXP_U_Y, EXP_U_X, [B_W, B_NU, B_G, B_WT],
           U_DOMAIN, U_TICKS, U_MINOR, False, False)
pc = panel("c", "Successive stations offset by 0.004", EXP_UV_Y, EXP_UV_X, [C_W, C_NU, C_G, C_WT],
           UV_DOMAIN, UV_TICKS, UV_MINOR, True, False)
pd_ = panel("d", "Successive stations offset by 0.004", EXP_UV_Y, EXP_UV_X, [D_W, D_NU, D_G, D_WT],
            UV_DOMAIN, UV_TICKS, UV_MINOR, True, False)

chart = alt.concat(pa, pb, pc, pd_, columns=2, spacing={"row": 157, "column": 229}, bounds="flush").resolve_scale(
    color="independent", shape="independent", size="independent", strokeDash="independent"
).properties(
    padding={"left": 37, "top": 15, "right": 5, "bottom": 5}, background="white"
).configure_view(stroke="black", strokeWidth=2.5)

chart.save("out.html", embed_options={"renderer": "svg", "actions": False})
